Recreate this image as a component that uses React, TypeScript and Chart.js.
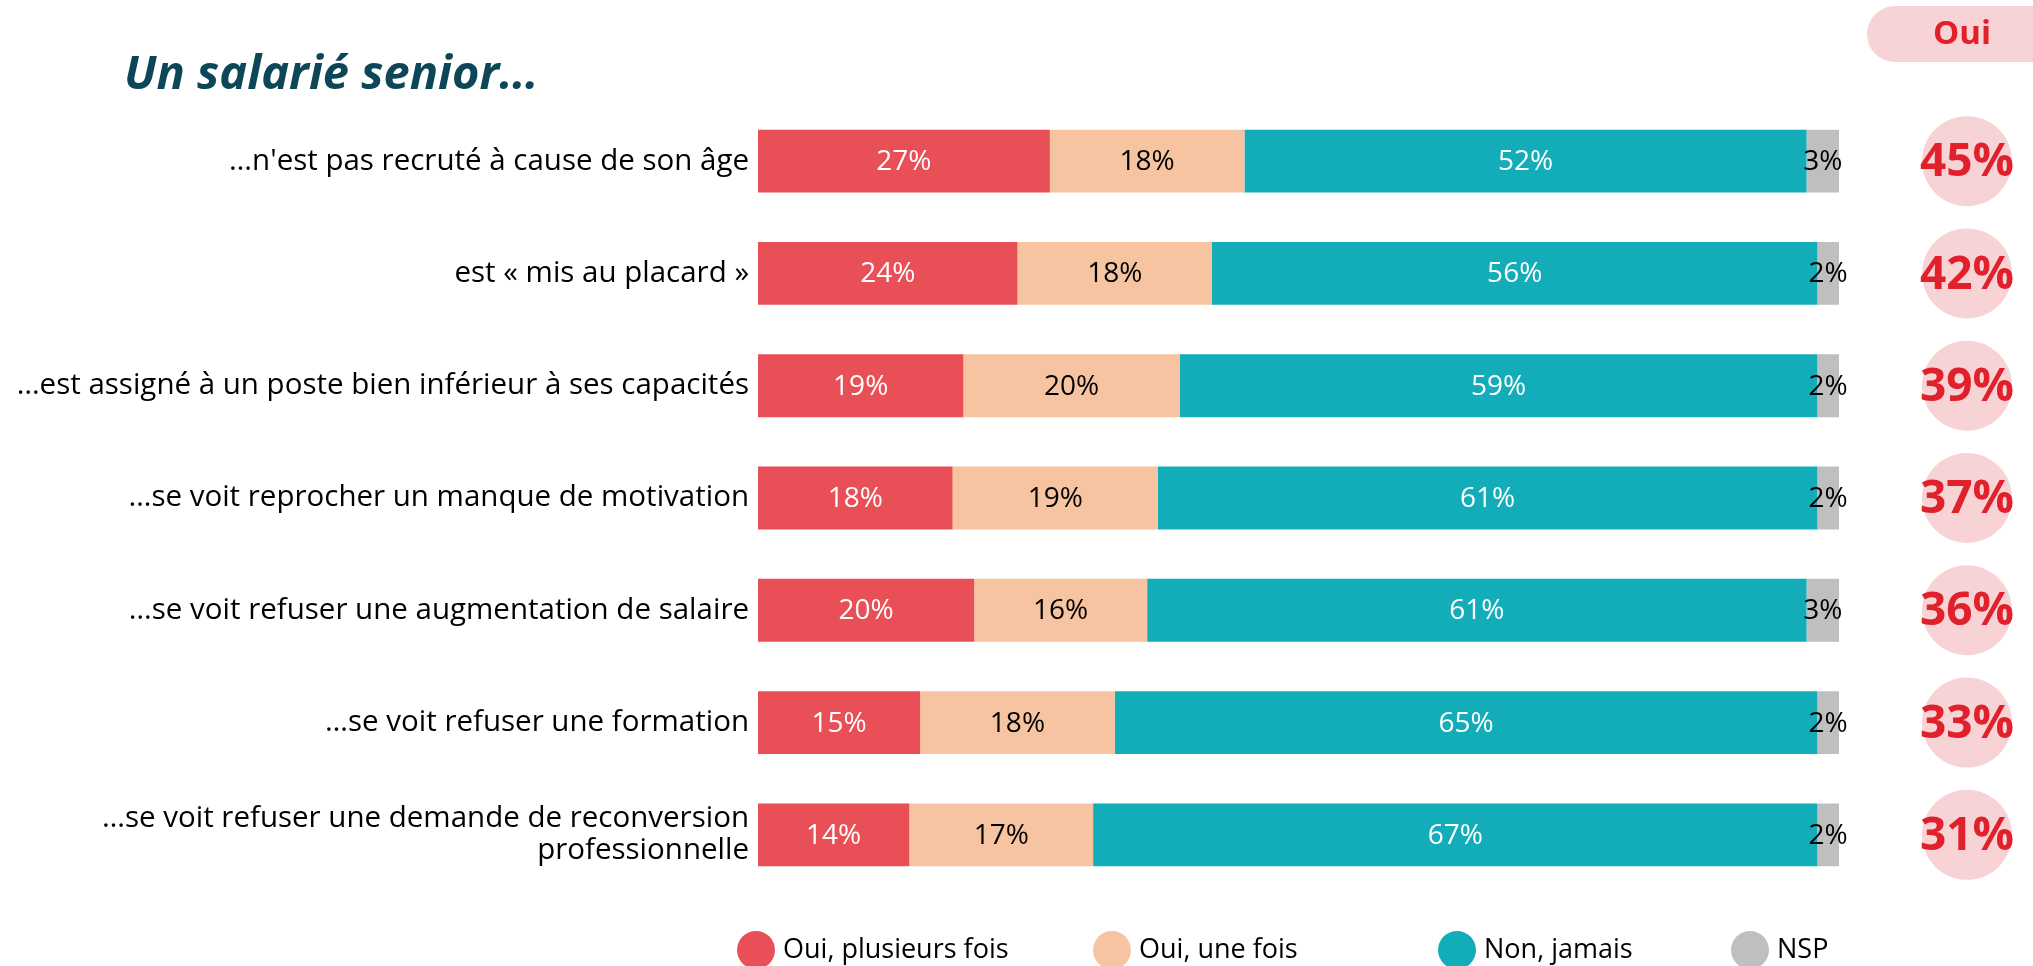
import React, { useEffect, useRef } from "react";
import { Chart, registerables } from "chart.js";

Chart.register(...registerables);

const titleText = "Un salarié senior…";
const totalHeader = "Oui";
const categories: (string | string[])[] = [
  "…n'est pas recruté à cause de son âge",
  "est « mis au placard »",
  "…est assigné à un poste bien inférieur à ses capacités",
  "…se voit reprocher un manque de motivation",
  "…se voit refuser une augmentation de salaire",
  "…se voit refuser une formation",
  ["…se voit refuser une demande de reconversion", "professionnelle"],
];
const seriesNames = ["Oui, plusieurs fois", "Oui, une fois", "Non, jamais", "NSP"];
const ouiPlusieurs = [27, 24, 19, 18, 20, 15, 14];
const ouiUne = [18, 18, 20, 19, 16, 18, 17];
const nonJamais = [52, 56, 59, 61, 61, 65, 67];
const nsp = [3, 2, 2, 2, 3, 2, 2];
const ouiTotal = [45, 42, 39, 37, 36, 33, 31];

const seriesColors = ["#E94F56", "#F7C4A1", "#12ADB9", "#BFBFBF"];
const valueLabelColors = ["#FFFFFF", "#000000", "#FFFFFF", "#000000"];
const FONT = "'Open Sans', 'Noto Sans', sans-serif";

const valueLabelsPlugin = {
  id: "valueLabels",
  afterDatasetsDraw(chart: any) {
    const ctx = chart.ctx;
    ctx.save();
    ctx.font = `28px ${FONT}`;
    ctx.textAlign = "center";
    ctx.textBaseline = "middle";
    chart.data.datasets.forEach((ds: any, di: number) => {
      const meta = chart.getDatasetMeta(di);
      meta.data.forEach((el: any, i: number) => {
        const v = ds.data[i];
        const cx = (el.x + el.base) / 2;
        ctx.fillStyle = valueLabelColors[di];
        ctx.fillText(`${v}%`, cx, el.y + 1);
      });
    });
    ctx.restore();
  },
};

const overlayPlugin = {
  id: "overlay",
  afterDraw(chart: any) {
    const ctx = chart.ctx;
    const yScale = chart.scales.y;
    ctx.save();
    // title
    ctx.font = `italic bold 47px ${FONT}`;
    ctx.fillStyle = "#0C4657";
    ctx.textAlign = "left";
    ctx.textBaseline = "alphabetic";
    ctx.fillText(titleText, 124, 89);

    // header pill
    const px = 1867, py = 6, ph = 56, pr = 28;
    ctx.fillStyle = "#F7D3D5";
    ctx.beginPath();
    ctx.moveTo(px + pr, py);
    ctx.lineTo(2033 + 40, py);
    ctx.lineTo(2033 + 40, py + ph);
    ctx.lineTo(px + pr, py + ph);
    ctx.arc(px + pr, py + pr, pr, Math.PI / 2, Math.PI * 1.5);
    ctx.closePath();
    ctx.fill();
    ctx.fillStyle = "#E0202A";
    ctx.font = `bold 33px ${FONT}`;
    ctx.textAlign = "center";
    ctx.textBaseline = "middle";
    ctx.fillText(totalHeader, 1962, 35);

    // totals circles
    const cx = 1967;
    ouiTotal.forEach((v, i) => {
      const y = yScale.getPixelForValue(i);
      ctx.fillStyle = "#F7D3D5";
      ctx.beginPath();
      ctx.arc(cx, y, 45, 0, Math.PI * 2);
      ctx.fill();
      ctx.fillStyle = "#E0202A";
      ctx.font = `bold 46px ${FONT}`;
      ctx.fillText(`${v}%`, cx, y + 2);
    });

    // legend
    const legendX = [756, 1112, 1457, 1750];
    const ly = 950;
    ctx.font = `27px ${FONT}`;
    ctx.textAlign = "left";
    seriesNames.forEach((name, i) => {
      ctx.fillStyle = seriesColors[i];
      ctx.beginPath();
      ctx.arc(legendX[i], ly, 19, 0, Math.PI * 2);
      ctx.fill();
      ctx.fillStyle = "#000000";
      ctx.fillText(name, legendX[i] + 27, ly);
    });
    ctx.restore();
  },
};

export default function App() {
  const canvasRef = useRef<HTMLCanvasElement | null>(null);

  useEffect(() => {
    document.body.style.margin = "0";
    const canvas = canvasRef.current;
    if (!canvas) return;
    const datasetsValues = [ouiPlusieurs, ouiUne, nonJamais, nsp];
    const chart = new Chart(canvas, {
      type: "bar",
      data: {
        labels: categories as any,
        datasets: datasetsValues.map((vals, i) => ({
          label: seriesNames[i],
          data: vals,
          backgroundColor: seriesColors[i],
          borderWidth: 0,
          barPercentage: 0.56,
          categoryPercentage: 1,
        })),
      },
      options: {
        indexAxis: "y",
        responsive: false,
        animation: false,
        devicePixelRatio: 1,
        layout: { padding: { left: 0, right: 194, top: 105, bottom: 75 } },
        scales: {
          x: { stacked: true, min: 0, max: 100, display: false },
          y: {
            stacked: true,
            grid: { display: false, drawTicks: false },
            border: { display: false },
            ticks: {
              color: "#000000",
              padding: 9,
              crossAlign: "near",
              font: { family: FONT, size: 29.5, lineHeight: 1.1 },
            },
            afterFit: (s: any) => {
              s.width = 758;
            },
          },
        },
        plugins: {
          legend: { display: false },
          tooltip: { enabled: false },
          title: { display: false },
        },
      } as any,
      plugins: [valueLabelsPlugin, overlayPlugin],
    });
    return () => chart.destroy();
  }, []);

  return (
    <div style={{ width: 2033, height: 966, position: "relative" }}>
      <canvas ref={canvasRef} width={2033} height={966} style={{ display: "block", width: 2033, height: 966 }} />
    </div>
  );
}
